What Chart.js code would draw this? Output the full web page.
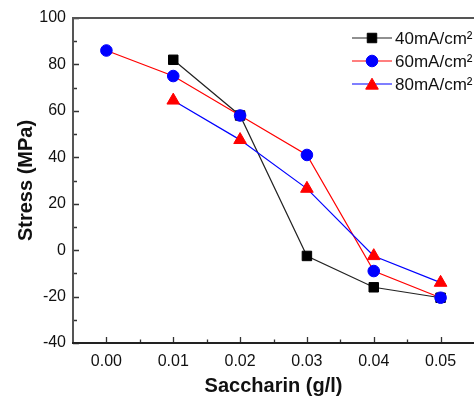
<!DOCTYPE html>
<html><head><meta charset="utf-8">
<script src="https://cdn.jsdelivr.net/npm/chart.js@4/dist/chart.umd.min.js"></script>
<style>html,body{margin:0;padding:0;background:#fff;}#wrap{width:474px;height:401px;position:relative;}</style>
</head><body><div id="wrap"><canvas id="c"></canvas></div>
<script>
const saccharin = [0.00, 0.01, 0.02, 0.03, 0.04, 0.05];
const stress40 = [null, 82, 58, -2.5, -16, -20.5];
const stress60 = [86, 75, 58, 41, -9, -20.5];
const stress80 = [null, 64.5, 47.5, 26.5, -2.5, -14];
const seriesNames = ['40mA/cm²', '60mA/cm²', '80mA/cm²'];
const xTickValues = [0.00, 0.01, 0.02, 0.03, 0.04, 0.05];
const xMinorValues = [0.005, 0.015, 0.025, 0.035, 0.045];
const yTickValues = [-40, -20, 0, 20, 40, 60, 80, 100];
const yMinorValues = [-30, -10, 10, 30, 50, 70, 90];

const FONT = '"Liberation Sans", Arial, Helvetica, sans-serif';
const toPts = arr => saccharin.map((x, i) => ({x: x, y: arr[i]})).filter(p => p.y !== null);

const axesPlugin = {
  id: 'axesPlugin',
  beforeDatasetsDraw(chart) {
    const {ctx, chartArea: a, scales: {x, y}} = chart;
    ctx.save();
    ctx.lineCap = 'butt';
    ctx.strokeStyle = '#333';
    ctx.lineWidth = 1.3;
    ctx.beginPath();
    xTickValues.forEach(v => { const px = Math.round(x.getPixelForValue(v)) + 0.5; ctx.moveTo(px, a.bottom); ctx.lineTo(px, a.bottom - 6); });
    xMinorValues.forEach(v => { const px = Math.round(x.getPixelForValue(v)) + 0.5; ctx.moveTo(px, a.bottom); ctx.lineTo(px, a.bottom - 3.5); });
    yTickValues.forEach(v => { const py = Math.round(y.getPixelForValue(v)) + 0.5; ctx.moveTo(a.left, py); ctx.lineTo(a.left + 6, py); });
    yMinorValues.forEach(v => { const py = Math.round(y.getPixelForValue(v)) + 0.5; ctx.moveTo(a.left, py); ctx.lineTo(a.left + 4, py); });
    ctx.stroke();
    ctx.lineWidth = 2;
    ctx.strokeStyle = '#555';
    ctx.beginPath();
    ctx.moveTo(a.left, a.bottom); ctx.lineTo(a.left, a.top); ctx.lineTo(a.right, a.top);
    ctx.stroke();
    ctx.strokeStyle = '#222';
    ctx.beginPath();
    ctx.moveTo(a.left - 1, a.bottom); ctx.lineTo(a.right, a.bottom);
    ctx.stroke();
    ctx.restore();
  }
};

const legendPlugin = {
  id: 'customLegend',
  afterDatasetsDraw(chart) {
    const {ctx, chartArea: a} = chart;
    const x0 = a.right - 122, y0 = a.top + 20, gap = 23;
    ctx.save();
    chart.data.datasets.forEach((ds, i) => {
      const yy = y0 + i * gap;
      ctx.strokeStyle = ds.borderColor;
      ctx.lineWidth = 1.2;
      ctx.beginPath(); ctx.moveTo(x0, yy); ctx.lineTo(x0 + 40, yy); ctx.stroke();
      ctx.fillStyle = ds.pointBackgroundColor;
      ctx.strokeStyle = ds.pointBorderColor;
      ctx.lineWidth = 1;
      Chart.helpers.drawPoint(ctx, {pointStyle: ds.pointStyle, radius: ds.pointRadius, borderWidth: 1, rotation: 0}, x0 + 20, yy + (ds.pointStyle === 'triangle' ? 1.5 : 0));
      ctx.fillStyle = '#111';
      ctx.font = '17px ' + FONT;
      ctx.textBaseline = 'middle';
      ctx.textAlign = 'left';
      ctx.fillText(ds.label, x0 + 43, yy + 1);
    });
    ctx.restore();
  }
};

new Chart(document.getElementById('c'), {
  type: 'line',
  data: {
    datasets: [
      {label: seriesNames[0], data: toPts(stress40), borderColor: '#222', borderWidth: 1.2, pointStyle: 'rect', pointRadius: 6.7, pointBackgroundColor: '#000', pointBorderColor: '#000', pointBorderWidth: 1, order: 3},
      {label: seriesNames[1], data: toPts(stress60), borderColor: '#ff0000', borderWidth: 1.2, pointStyle: 'circle', pointRadius: 5.8, pointBackgroundColor: '#0000ff', pointBorderColor: '#0000ff', pointBorderWidth: 1, order: 2},
      {label: seriesNames[2], data: toPts(stress80), borderColor: '#0000ff', borderWidth: 1.2, pointStyle: 'triangle', pointRadius: 7.3, pointBackgroundColor: '#ff0000', pointBorderColor: '#ff0000', pointBorderWidth: 1, order: 1}
    ]
  },
  options: {
    responsive: true,
    maintainAspectRatio: false,
    animation: false,
    events: [],
    layout: {autoPadding: false, padding: {top: 18, right: 0, left: 0, bottom: 0}},
    plugins: {legend: {display: false}, tooltip: {enabled: false}},
    scales: {
      x: {
        type: 'linear', min: -0.005, max: 0.055,
        grid: {display: false, drawTicks: false, tickLength: 0}, border: {display: false},
        afterBuildTicks: s => { s.ticks = xTickValues.map(v => ({value: v})); },
        afterFit: s => { s.height = 58; s.paddingLeft = 0; s.paddingRight = 0; },
        ticks: {callback: v => Number(v).toFixed(2), font: {family: FONT, size: 16}, color: '#111', padding: 9, maxRotation: 0, autoSkip: false},
        title: {display: true, text: 'Saccharin (g/l)', font: {family: FONT, size: 20, weight: 'bold'}, color: '#111', padding: {top: 4, bottom: 3}}
      },
      y: {
        type: 'linear', min: -40, max: 100,
        grid: {display: false, drawTicks: false, tickLength: 0}, border: {display: false},
        afterBuildTicks: s => { s.ticks = yTickValues.map(v => ({value: v})); },
        afterFit: s => { s.width = 73; s.paddingTop = 0; s.paddingBottom = 0; },
        ticks: {font: {family: FONT, size: 16}, color: '#111', padding: 7, autoSkip: false},
        title: {display: true, text: 'Stress (MPa)', font: {family: FONT, size: 20, weight: 'bold'}, color: '#111', padding: {top: 14, bottom: 0}}
      }
    }
  },
  plugins: [axesPlugin, legendPlugin]
});
</script></body></html>
